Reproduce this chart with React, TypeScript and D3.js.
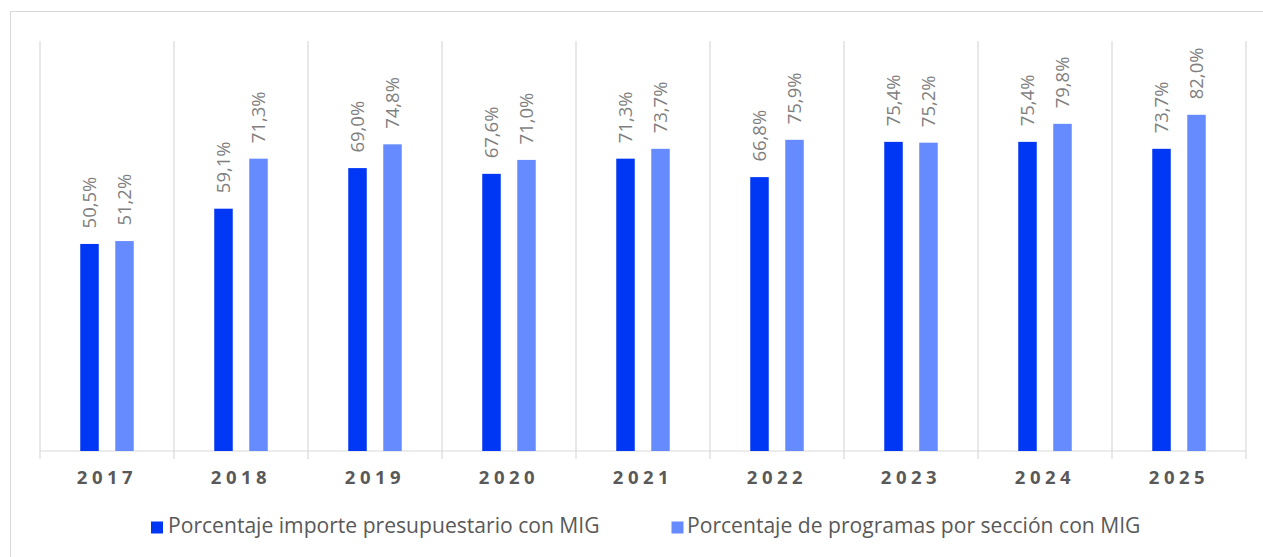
import React from "react";
import * as d3 from "d3";

const categories = ["2017", "2018", "2019", "2020", "2021", "2022", "2023", "2024", "2025"];
const importeValues = [50.5, 59.1, 69.0, 67.6, 71.3, 66.8, 75.4, 75.4, 73.7];
const programasValues = [51.2, 71.3, 74.8, 71.0, 73.7, 75.9, 75.2, 79.8, 82.0];
const seriesNames = ["Porcentaje importe presupuestario con MIG", "Porcentaje de programas por sección con MIG"];
const seriesColors = ["#0037F5", "#668AFF"];

const W = 1263;
const H = 557;
const plotLeft = 40;
const plotRight = 1246;
const plotTop = 41;
const plotBottom = 451;
const FONT = "'Open Sans', Lato, sans-serif";

export default function App() {
  const x = d3.scaleBand<string>().domain(categories).range([plotLeft, plotRight]).padding(0);
  const y = d3.scaleLinear().domain([0, 100]).range([plotBottom, plotTop]);
  const barW = 18.5;
  const offset = 17.5;
  const fmt = (v: number) => v.toFixed(1).replace(".", ",") + "%";
  const series = [importeValues, programasValues];
  const gridXs = categories.map((c) => x(c)!).concat([plotRight]);
  const legend = [
    { sx: 151, tx: 168 },
    { sx: 671.5, tx: 687 },
  ];

  return (
    <svg width={W} height={H} style={{ position: "absolute", left: 0, top: 0, background: "#fff" }}>
      <rect x={10.5} y={11.5} width={1262} height={560} fill="#fff" stroke="#D9D9D9" strokeWidth={1} />
      {gridXs.map((gx, i) => (
        <line key={"g" + i} x1={gx} x2={gx} y1={plotTop} y2={plotBottom + 8} stroke="#D9D9D9" strokeWidth={1.2} />
      ))}
      <line x1={plotLeft} x2={plotRight} y1={plotBottom} y2={plotBottom} stroke="#D9D9D9" strokeWidth={1.2} />
      {series.map((vals, si) =>
        categories.map((c, i) => {
          const cx = x(c)! + x.bandwidth() / 2 + (si === 0 ? -offset : offset);
          const top = y(vals[i]);
          return (
            <g key={si + "-" + c}>
              <rect x={cx - barW / 2} y={top} width={barW} height={plotBottom - top} fill={seriesColors[si]} />
              <text
                transform={`translate(${cx + 6.6},${top - 15.5}) rotate(-90)`}
                fontFamily={FONT}
                fontSize={18.5}
                fill="#7F7F7F"
                textAnchor="start"
              >
                {fmt(vals[i])}
              </text>
            </g>
          );
        })
      )}
      {categories.map((c) => (
        <text
          key={"x" + c}
          x={x(c)! + x.bandwidth() / 2}
          y={483.5}
          textAnchor="middle"
          fontFamily={FONT}
          fontSize={18.5}
          fontWeight={700}
          letterSpacing={4.5}
          fill="#595959"
        >
          {c}
        </text>
      ))}
      <g>
        {seriesNames.map((name, i) => (
          <g key={"l" + i}>
            <rect x={legend[i].sx} y={521.5} width={12} height={12} fill={seriesColors[i]} />
            <text x={legend[i].tx} y={532.5} fontFamily={FONT} fontSize={21.1} fill="#595959">
              {name}
            </text>
          </g>
        ))}
      </g>
    </svg>
  );
}
